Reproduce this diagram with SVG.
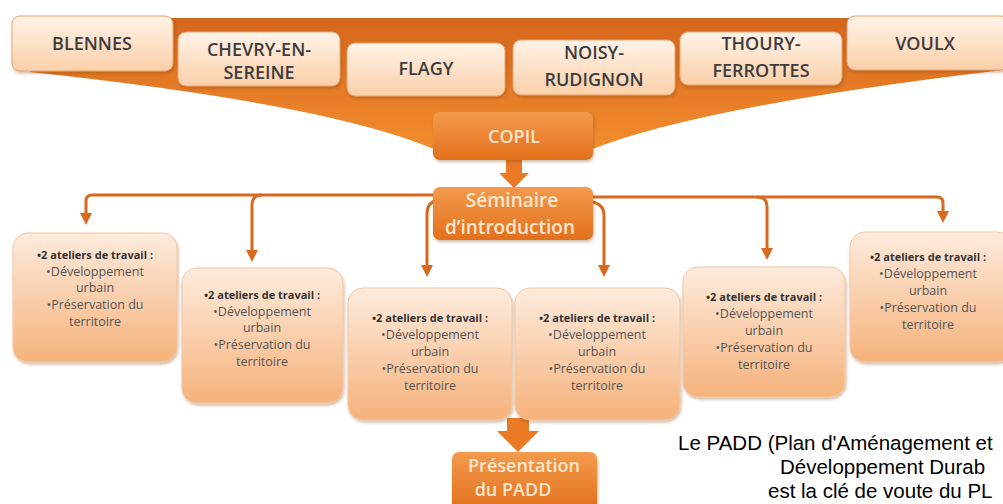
<svg xmlns="http://www.w3.org/2000/svg" width="1003" height="504" viewBox="0 0 1003 504">
  <defs>
    <linearGradient id="gFunnel" x1="0" y1="0" x2="0" y2="1">
      <stop offset="0" stop-color="#d4661c"/>
      <stop offset="1" stop-color="#f38d2e"/>
    </linearGradient>
    <linearGradient id="gTown" x1="0" y1="0" x2="0" y2="1">
      <stop offset="0" stop-color="#fff3e8"/>
      <stop offset="1" stop-color="#fbcfa9"/>
    </linearGradient>
    <linearGradient id="gAtelier" x1="0" y1="0" x2="0" y2="1">
      <stop offset="0" stop-color="#fdebdd"/>
      <stop offset="1" stop-color="#f6b27b"/>
    </linearGradient>
    <linearGradient id="gOrange" x1="0" y1="0" x2="0" y2="1">
      <stop offset="0" stop-color="#f39a4c"/>
      <stop offset="1" stop-color="#e2701c"/>
    </linearGradient>
    <filter id="shadow" x="-10%" y="-10%" width="130%" height="140%">
      <feDropShadow dx="1" dy="2" stdDeviation="1.5" flood-color="#7a3a10" flood-opacity="0.35"/>
    </filter>
    <marker id="arrow" viewBox="0 0 12 12" markerUnits="userSpaceOnUse" markerWidth="12" markerHeight="12" refX="2" refY="6" orient="auto">
      <path d="M0,0 L12,6 L0,12 z" fill="#d9691f"/>
    </marker>
    <style>
      .town rect { fill: url(#gTown); stroke: #e9a46c; stroke-width: 1; filter: url(#shadow); }
      .town text { font-family: "Open Sans", "Liberation Sans", sans-serif; font-size: 18px; font-weight: 600; fill: #3d3d3d; text-anchor: middle; }
      .orange rect { fill: url(#gOrange); filter: url(#shadow); }
      .orange text { font-family: "Open Sans", "Liberation Sans", sans-serif; font-weight: 600; fill: #fde6d0; text-anchor: middle; }
      .atelier rect { fill: url(#gAtelier); stroke: #f3c7a2; stroke-width: 1; filter: url(#shadow); }
      .atelier text { font-family: "Open Sans", "Liberation Sans", sans-serif; text-anchor: middle; }
      .atelier .t { font-size: 11px; font-weight: 700; fill: #333333; }
      .atelier .b { font-size: 12.5px; fill: #555555; }
      .conn { fill: none; stroke: #d9691f; stroke-width: 3; }
      .block { fill: #ea7a26; }
      .caption { font-family: "Liberation Sans", Arial, sans-serif; font-size: 20.5px; fill: #000000; }
    </style>
  </defs>

  <rect x="0" y="0" width="1003" height="504" fill="#ffffff"/>

  <g id="funnel">
    <path d="M20,18 L1003,18 L1003,70 Q700,106 590,150 L436,150 Q330,104 30,72 Z" fill="url(#gFunnel)"/>
  </g>

  <g id="blennes" class="town">
    <rect x="12" y="16" width="161" height="55" rx="8"/>
    <text x="92" y="50">BLENNES</text>
  </g>
  <g id="chevry" class="town">
    <rect x="178" y="32" width="162" height="54" rx="8"/>
    <text x="259" y="56">CHEVRY-EN-</text>
    <text x="259" y="79">SEREINE</text>
  </g>
  <g id="flagy" class="town">
    <rect x="347" y="43" width="158" height="53" rx="8"/>
    <text x="426" y="75">FLAGY</text>
  </g>
  <g id="noisy" class="town">
    <rect x="513" y="40" width="162" height="55" rx="8"/>
    <text x="594" y="59">NOISY-</text>
    <text x="594" y="86">RUDIGNON</text>
  </g>
  <g id="thoury" class="town">
    <rect x="680" y="32" width="162" height="53" rx="8"/>
    <text x="761" y="50">THOURY-</text>
    <text x="761" y="77">FERROTTES</text>
  </g>
  <g id="voulx" class="town">
    <rect x="847" y="16" width="162" height="54" rx="8"/>
    <text x="925" y="50">VOULX</text>
  </g>

  <g id="connectors">
    <polygon class="block" points="506,158 522,158 522,173 529,173 514,188 499,173 506,173"/>
    <path class="conn" d="M436,195 H92 Q86,195 86,201 V215" marker-end="url(#arrow)"/>
    <path class="conn" d="M262,195 Q252,195 252,205 V252" marker-end="url(#arrow)"/>
    <path class="conn" d="M438,200 Q427,202 427,214 V267" marker-end="url(#arrow)"/>
    <path class="conn" d="M590,197 H937 Q943,197 943,203 V213" marker-end="url(#arrow)"/>
    <path class="conn" d="M757,197 Q767,197 767,207 V250" marker-end="url(#arrow)"/>
    <path class="conn" d="M588,201 Q604,203 604,215 V267" marker-end="url(#arrow)"/>
    <polygon class="block" points="507,418 529,418 529,431 539,431 518,452 497,431 507,431"/>
  </g>

  <g id="copil" class="orange">
    <rect x="433" y="112" width="160" height="48" rx="7"/>
    <text x="514" y="143" font-size="18">COPIL</text>
  </g>
  <g id="seminaire" class="orange">
    <rect x="433" y="187" width="160" height="53" rx="7"/>
    <text x="512" y="207" font-size="19">Séminaire</text>
    <text x="510" y="234" font-size="19">d’introduction</text>
  </g>

  <g id="atelier1" class="atelier">
    <rect x="13" y="233" width="164" height="129" rx="15"/>
    <text class="t" x="95" y="259">•2 ateliers de travail :</text>
    <text class="b" x="95" y="276">•Développement</text>
    <text class="b" x="95" y="292">urbain</text>
    <text class="b" x="95" y="309">•Préservation du</text>
    <text class="b" x="95" y="326">territoire</text>
  </g>
  <g id="atelier2" class="atelier">
    <rect x="182" y="268" width="161" height="135" rx="15"/>
    <text class="t" x="262" y="299">•2 ateliers de travail :</text>
    <text class="b" x="262" y="316">•Développement</text>
    <text class="b" x="262" y="332">urbain</text>
    <text class="b" x="262" y="349">•Préservation du</text>
    <text class="b" x="262" y="366">territoire</text>
  </g>
  <g id="atelier3" class="atelier">
    <rect x="348" y="288" width="164" height="132" rx="15"/>
    <text class="t" x="430" y="322">•2 ateliers de travail :</text>
    <text class="b" x="430" y="339">•Développement</text>
    <text class="b" x="430" y="356">urbain</text>
    <text class="b" x="430" y="373">•Préservation du</text>
    <text class="b" x="430" y="390">territoire</text>
  </g>
  <g id="atelier4" class="atelier">
    <rect x="515" y="288" width="165" height="132" rx="15"/>
    <text class="t" x="597" y="322">•2 ateliers de travail :</text>
    <text class="b" x="597" y="339">•Développement</text>
    <text class="b" x="597" y="356">urbain</text>
    <text class="b" x="597" y="373">•Préservation du</text>
    <text class="b" x="597" y="390">territoire</text>
  </g>
  <g id="atelier5" class="atelier">
    <rect x="683" y="267" width="162" height="130" rx="15"/>
    <text class="t" x="764" y="301">•2 ateliers de travail :</text>
    <text class="b" x="764" y="318">•Développement</text>
    <text class="b" x="764" y="335">urbain</text>
    <text class="b" x="764" y="352">•Préservation du</text>
    <text class="b" x="764" y="369">territoire</text>
  </g>
  <g id="atelier6" class="atelier">
    <rect x="850" y="232" width="162" height="130" rx="15"/>
    <text class="t" x="928" y="261">•2 ateliers de travail :</text>
    <text class="b" x="928" y="278">•Développement</text>
    <text class="b" x="928" y="295">urbain</text>
    <text class="b" x="928" y="312">•Préservation du</text>
    <text class="b" x="928" y="329">territoire</text>
  </g>

  <g id="presentation" class="orange">
    <rect x="452" y="452" width="145" height="60" rx="7"/>
    <text x="524" y="472" font-size="18">Présentation</text>
    <text x="513" y="496" font-size="18">du PADD</text>
  </g>

  <g id="caption">
    <text class="caption" x="678" y="450">Le PADD (Plan d'Aménagement et</text>
    <text class="caption" x="780" y="474">Développement Durab</text>
    <text class="caption" x="768" y="498">est la clé de voute du PL</text>
  </g>
</svg>
